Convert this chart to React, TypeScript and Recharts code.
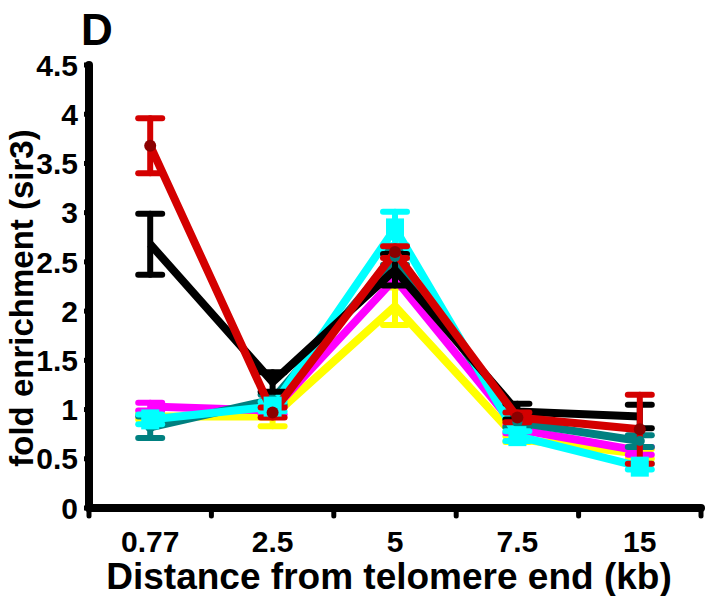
import React from "react";
import { LineChart, Line, XAxis, YAxis, ErrorBar } from "recharts";

const categories = ["0.77", "2.5", "5", "7.5", "15"];
const yTicks = [0, 0.5, 1, 1.5, 2, 2.5, 3, 3.5, 4, 4.5];

const red = [3.68, 0.97, 2.6, 0.92, 0.8];
const redErr = [0.28, 0.05, 0.06, 0.05, 0.35];
const black = [2.68, 1.28, 2.42, 0.98, 0.93];
const blackErr = [0.31, 0.1, 0.16, 0.08, 0.12];
const teal = [0.82, 1.1, 2.55, 0.87, 0.68];
const tealErr = [0.11, 0.05, 0.08, 0.05, 0.06];
const magenta = [1.03, 0.99, 2.33, 0.8, 0.58];
const magentaErr = [0.04, 0.04, 0.06, 0.04, 0.04];
const yellow = [0.93, 0.93, 2.05, 0.7, 0.55];
const yellowErr = [0.03, 0.1, 0.19, 0.03, 0.05];
const cyan = [0.9, 1.03, 2.84, 0.73, 0.42];
const cyanErr = [0.05, 0.05, 0.17, 0.05, 0.03];

const data = categories.map((c, i) => ({
  x: i + 0.5,
  label: c,
  red: red[i],
  redErr: redErr[i],
  black: black[i],
  blackErr: blackErr[i],
  teal: teal[i],
  tealErr: tealErr[i],
  magenta: magenta[i],
  magentaErr: magentaErr[i],
  yellow: yellow[i],
  yellowErr: yellowErr[i],
  cyan: cyan[i],
  cyanErr: cyanErr[i],
}));

const xTicks = [0, 0.5, 1, 1.5, 2, 2.5, 3, 3.5, 4, 4.5, 5];
const font = "'Liberation Sans', Arial, sans-serif";

function XTick(props: any) {
  const { x, y, payload } = props;
  const v = payload.value;
  if (Number.isInteger(v)) {
    return (
      <line x1={x} y1={y} x2={x} y2={y + 8} stroke="#000" strokeWidth={5} strokeLinecap="round" />
    );
  }
  return (
    <text x={x} y={y + 44} textAnchor="middle" fontFamily={font} fontWeight="bold" fontSize={30} fill="#000">
      {categories[Math.floor(v)]}
    </text>
  );
}

function SquareDot(props: any) {
  const { cx, cy } = props;
  if (cx == null || cy == null) return null;
  return <rect x={cx - 9} y={cy - 10} width={18} height={20} fill="#00FFFF" />;
}

export default function App() {
  return (
    <div style={{ position: "absolute", left: 0, top: 0, width: 716, height: 596, background: "#fff" }}>
      <LineChart
        width={716}
        height={596}
        data={data}
        margin={{ top: 65, right: 15, left: 19, bottom: 0 }}
      >
        <XAxis
          type="number"
          dataKey="x"
          domain={[0, 5]}
          ticks={xTicks}
          interval={0}
          height={88}
          tickSize={0}
          tickMargin={0}
          tickLine={false}
          axisLine={{ stroke: "#000", strokeWidth: 8, strokeLinecap: "round" }}
          tick={<XTick />}
        />
        <YAxis
          type="number"
          domain={[0, 4.5]}
          ticks={yTicks}
          interval={0}
          width={70}
          tickSize={5}
          tickMargin={6}
          tickLine={{ stroke: "#000", strokeWidth: 5 }}
          axisLine={{ stroke: "#000", strokeWidth: 8, strokeLinecap: "round" }}
          tick={{ fill: "#000", fontSize: 30, fontWeight: "bold", fontFamily: font }}
        />
        <Line dataKey="yellow" stroke="#FFFF00" strokeWidth={8} strokeLinejoin="round" dot={false} isAnimationActive={false}>
          <ErrorBar dataKey="yellowErr" direction="y" width={12} strokeWidth={6} strokeLinecap="round" stroke="#FFFF00" />
        </Line>
        <Line dataKey="magenta" stroke="#FF00FF" strokeWidth={8} strokeLinejoin="round" dot={false} isAnimationActive={false}>
          <ErrorBar dataKey="magentaErr" direction="y" width={12} strokeWidth={6} strokeLinecap="round" stroke="#FF00FF" />
        </Line>
        <Line dataKey="teal" stroke="#008080" strokeWidth={8} strokeLinejoin="round" dot={{ r: 5, fill: "#008080", stroke: "none" }} isAnimationActive={false}>
          <ErrorBar dataKey="tealErr" direction="y" width={12} strokeWidth={6} strokeLinecap="round" stroke="#008080" />
        </Line>
        <Line dataKey="cyan" stroke="#00FFFF" strokeWidth={8} strokeLinejoin="round" dot={<SquareDot />} isAnimationActive={false}>
          <ErrorBar dataKey="cyanErr" direction="y" width={12} strokeWidth={6} strokeLinecap="round" stroke="#00FFFF" />
        </Line>
        <Line dataKey="black" stroke="#000000" strokeWidth={8} strokeLinejoin="round" dot={false} isAnimationActive={false}>
          <ErrorBar dataKey="blackErr" direction="y" width={12} strokeWidth={6} strokeLinecap="round" stroke="#000000" />
        </Line>
        <Line dataKey="red" stroke="#D40000" strokeWidth={8} strokeLinejoin="round" dot={{ r: 6, fill: "#8B0000", stroke: "none" }} isAnimationActive={false}>
          <ErrorBar dataKey="redErr" direction="y" width={12} strokeWidth={6} strokeLinecap="round" stroke="#D40000" />
        </Line>
      </LineChart>
      <div style={{ position: "absolute", left: 81, top: 6, fontFamily: font, fontWeight: "bold", fontSize: 44, lineHeight: "48px" }}>
        D
      </div>
      <div
        style={{
          position: "absolute",
          left: 22,
          top: 298,
          transform: "translate(-50%, -50%) rotate(-90deg)",
          whiteSpace: "nowrap",
          fontFamily: font,
          fontWeight: "bold",
          fontSize: 33,
        }}
      >
        fold enrichment (sir3)
      </div>
      <div
        style={{
          position: "absolute",
          left: 389,
          top: 577,
          transform: "translate(-50%, -50%)",
          whiteSpace: "nowrap",
          fontFamily: font,
          fontWeight: "bold",
          fontSize: 37,
        }}
      >
        Distance from telomere end (kb)
      </div>
    </div>
  );
}
